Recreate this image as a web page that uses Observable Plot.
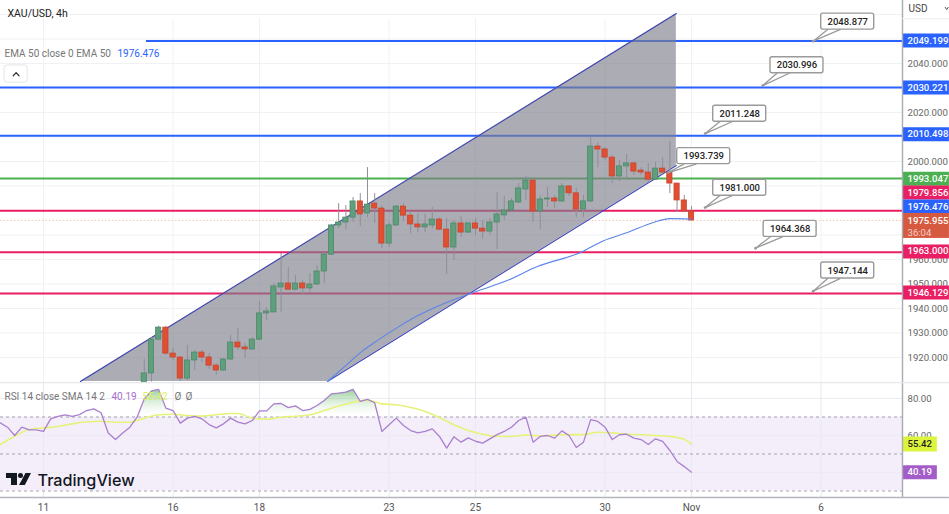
<!DOCTYPE html>
<html>
<head>
<meta charset="utf-8">
<script src="https://cdn.jsdelivr.net/npm/d3@7"></script>
<script src="https://cdn.jsdelivr.net/npm/@observablehq/plot@0.6"></script>
<style>
html,body{margin:0;padding:0;background:#fff;overflow:hidden}
#chart{width:949px;height:514px}
svg{display:block}
</style>
</head>
<body>
<div id="chart"></div>
<script>
// ---------- candle data (4h bars, first bar is index 14 counted from the "11" tick) ----------
const candleStart = 14;
const opens = [1907.3,1913.5,1927.3,1932.2,1921.6,1920,1911.4,1918.8,1922,1920,1916.7,1914.7,1919.2,1926.1,1924.1,1923.3,1927.3,1938,1938.4,1948.6,1950.2,1947.7,1950.2,1948.2,1949.8,1955.1,1962,1973.9,1975.1,1977.1,1983.7,1978.8,1982.8,1980.8,1966.5,1973.9,1981.6,1977.9,1974.3,1973.1,1973.9,1976.3,1972.2,1964.9,1974.7,1971,1974.7,1972.6,1971.4,1975.1,1978,1980,1983.3,1988.6,1992.2,1979.6,1984.5,1984.9,1983.7,1989.8,1987,1980.4,1983.7,2006.1,2004.9,2001.6,1993.9,1998,1999.2,1996.3,1995.5,1992.6,1997.1,1995.5,1991,1984.1,1979.6];
const highs = [1919.2,1928.1,1932.8,1932.6,1923.7,1920.3,1924.9,1922.9,1922.9,1921.6,1917.5,1919.6,1929,1931.8,1925.7,1928.1,1942.9,1940.4,1950.2,1962.4,1956.7,1953.5,1951.4,1954.3,1957.5,1962.9,1974.3,1982.8,1982,1985.3,1986.9,1997.5,1986.9,1982,1975.1,1982,1982.8,1979.2,1978.8,1978.4,1981.2,1977.1,1976.7,1975.9,1977.5,1975.1,1976.7,1975.9,1976.7,1987.3,1985.7,1984.9,1991,1993.9,1992.2,1986.1,1989.4,1986.1,1991,1990.2,1989,1986.1,2009.8,2007.7,2005.7,2002.4,2000.4,2002.9,1999.6,1997.5,1999.2,1999.6,2001.6,2008.2,1991,1986.1,1981.6];
const lows = [1905,1910,1926.9,1921,1918.8,1910.2,1910.6,1914.7,1918,1915.1,1912.7,1914.3,1918.8,1922.9,1919.6,1922.9,1926.9,1935.1,1938.4,1938.4,1947.3,1947.3,1945.7,1946.1,1949.4,1950.2,1961.6,1972.6,1972.2,1975.1,1973.5,1977.1,1974.7,1964.5,1964.9,1973.5,1975.5,1970.6,1971,1971,1972.6,1971.8,1953.9,1959.6,1969,1970.6,1969.8,1968.2,1969.8,1964.1,1975.9,1979.6,1982.8,1984.1,1975.1,1972.2,1981.2,1980.8,1983.3,1985.7,1977.1,1977.1,1983.3,1997.5,2000.4,1991,1991.8,1992.6,1994.3,1994.3,1991,1992.2,1994.3,1986.9,1979.2,1979.2,1975.9];
const closes = [1913.5,1927.3,1932.2,1921.6,1920,1911.4,1918.8,1922,1920,1916.7,1914.7,1919.2,1926.1,1924.1,1923.3,1927.3,1938,1938.8,1949,1950.2,1947.7,1950.2,1948.2,1949.8,1955.1,1962,1973.9,1975.1,1977.1,1983.7,1978.4,1982.4,1980.8,1966.5,1973.9,1981.6,1977.9,1974.3,1973.1,1974.3,1976.3,1972.2,1964.9,1974.7,1971,1974.7,1972.6,1971.4,1975.1,1978.4,1980,1983.7,1989,1992.2,1979.6,1984.5,1984.9,1983.7,1989.8,1987,1980.4,1983.7,2006.1,2004.9,2001.6,1993.9,1998,1999.2,1995.9,1995.5,1992.6,1997.1,1995.5,1991,1984.1,1979.6,1975.9];

// ---------- EMA 50 ----------
const emaIndex = [39.44,41.67,44.4,46.4,49.2,52,53.75,59.3,64.4,68.6,74.6,77.8,81.1,84.7,87,89.9];
const emaValue = [1910.2,1915.9,1922.9,1927,1932.3,1937.1,1939.6,1946.1,1951.4,1957.1,1962.9,1967.7,1971,1975.1,1976.7,1976.5];

// ---------- rising channel ----------
const channelIndex = [5.14,39.44,87.9];
const channelLow = [1910.2,1910.2,1998.4];
const channelHigh = [1910.2,1972.4,2060.4];

// ---------- horizontal levels ----------
const levelValue = [2049.199,2030.221,2010.498,1993.047,1979.856,1963,1946.129];
const levelColor = ["#2962ff","#2962ff","#2962ff","#4caf50","#e91e63","#e91e63","#e91e63"];
const levelStart = [14.3,-6,-6,-6,-6,-6,-6];
const lastPrice = 1975.955;

// ---------- callouts ----------
const calloutText = ["2048.877","2030.996","2011.248","1993.739","1981.000","1964.368","1947.144"];
const calloutBoxX = [111.7,104.65,96.7,91.7,96.7,103.7,111.7];
const calloutBoxY = [2057.1,2039.3,2019.5,2002.2,1989.3,1972.5,1955.5];
const calloutTipX = [106.9,99.9,91.9,86.8,91.9,98.9,106.9];
const calloutTipY = [2049.1,2031,2011.4,1995.5,1981.2,1964.6,1947.05];

// ---------- price scale ----------
const priceTicks = [2040,2020,2000,1960,1950,1940,1930,1920];
const priceGrid = [2060,2050,2040,2030,2020,2010,2000,1990,1980,1970,1960,1950,1940,1930,1920];
const tagText = ["2049.199","2030.221","2010.498","1993.047","1979.856","1976.476","1963.000","1946.129"];
const tagAt = [2049.4,2030.2,2011.1,1993.0,1987.3,1981.6,1963.3,1946.5];
const tagColor = ["#2962ff","#2962ff","#2962ff","#4caf50","#e91e63","#2962ff","#e91e63","#e91e63"];

// ---------- time scale ----------
const dayIndex = [0,18,30,48,60,78,90,108];
const dayLabel = ["11","16","18","23","25","30","Nov","6"];

// ---------- RSI (first value is index -6) ----------
const rsiStart = -6;
const rsi = [66.8,64.5,60,64.5,63.1,63.1,62.2,69,70.4,71.2,70.4,71.3,73.5,74.4,72.3,61.4,57.8,61.4,64.5,69.9,79.8,84,84.9,74.8,73.5,66.7,69.4,70.3,69,65.9,64.1,66.3,69.4,67.2,66.3,68.1,73.3,73.3,77.1,77.3,75.1,76,73.5,74.1,76.2,78.9,82.5,82.9,83.4,84.9,78.4,79.5,77.7,62.2,65.8,69.4,65.4,62.7,61.4,62.2,63.6,59.5,53.2,59.3,56.4,58.7,56.9,55.9,58.2,60.5,62.2,64.5,68.1,69.9,56.4,59.5,60,58.6,62.5,60,53.5,56.4,68.6,67.6,64.5,57.8,60.4,60.7,58.6,57.8,55.1,58.2,56.8,51.9,46,43.2,40.19];
const smaIndex = [-6,-4,-2,0,2,4,6,8,10,12,14,16,18,20,22,24,26,27,29,31,33,35,37,39,41,43,45,47,49,51,53,55,57,59,61,63,65,67,69,71,73,75,77,79,81,83,85,87,89,90];
const smaValue = [55.1,59.6,63.2,64.1,64.9,66.3,67.4,67.7,67.2,67.2,69.4,71.2,71.5,70.8,70.5,71.2,71.9,71.9,69.4,68.8,69.9,70.4,71.2,73.5,75.9,78,79.1,77.1,76.6,75.1,73,69.7,65.8,62.7,60.7,59.6,59.5,60.2,59.8,60.2,60.5,60.5,61.8,61.4,60.7,60.4,60,59.5,57.8,55.42];
const rsiTicks = [80,60];
const rsiGrid = [80,60,40];
const rsiBands = [70,50,30];

// ---------- tables ----------
const candles = opens.map((o,k)=>({i:candleStart+k,o,h:highs[k],l:lows[k],c:closes[k],up:closes[k]>=o}));
const ema = emaIndex.map((i,k)=>({i,v:emaValue[k]}));
const channel = channelIndex.map((i,k)=>({i,lo:channelLow[k],hi:channelHigh[k]}));
const levels = levelValue.map((v,k)=>({v,color:levelColor[k],start:levelStart[k]}));
const tags = tagText.map((t,k)=>({t,at:tagAt[k],color:tagColor[k]}));
const rsiRows = rsi.map((v,k)=>({i:rsiStart+k,v}));
const smaRows = smaIndex.map((i,k)=>({i,v:smaValue[k]}));
const boxW = 3.68, boxH = 3.27;
const callouts = calloutText.map((t,k)=>({t,x:calloutBoxX[k],y:calloutBoxY[k],tx:calloutTipX[k],ty:calloutTipY[k]}));
const pointers = callouts.flatMap((c,k)=>[
  {k,x:c.x-boxW+0.9,y:c.y-boxH},{k,x:c.tx,y:c.ty},{k,x:c.x-boxW+2.6,y:c.y-boxH}
]);

// ---------- shared scale ----------
const xDomain = [-5.97,119.31];
const axisEdge = 119.31, rightEnd = 125.83, leftEnd = -5.97;
const font = "Roboto, 'Liberation Sans', sans-serif";
const grid = "#f0f1f5";
const axisSize = 9.6;

function note(text, x, y, o={}) {
  return Plot.text([text], {text:d=>d, frameAnchor:"top-left", dx:x, dy:y, textAnchor:"start", lineAnchor:"middle", fontSize:10, ...o});
}

const main = Plot.plot({
  width:949, height:382, marginTop:0, marginBottom:0, marginLeft:0, marginRight:47,
  style:{fontFamily:font, background:"#fff", color:"#666"},
  x:{domain:xDomain, axis:null},
  y:{domain:[1909.8,2065.71], axis:null},
  marks:[
    Plot.ruleY(priceGrid,{x1:leftEnd,x2:axisEdge,stroke:grid,strokeWidth:1}),
    Plot.ruleX(dayIndex,{y1:1909.8,y2:2058.3,stroke:grid,strokeWidth:1}),
    Plot.ruleY([lastPrice],{x1:leftEnd,x2:axisEdge,stroke:"#f3a9a0",strokeWidth:1,strokeDasharray:"1.5 2",strokeOpacity:0.7}),
    Plot.ruleY(levels,{y:"v",x1:"start",x2:axisEdge,stroke:"color",strokeWidth:2}),
    Plot.areaY(channel,{x:"i",y1:"lo",y2:"hi",fill:"#80808c",fillOpacity:0.65,curve:"linear"}),
    Plot.line(channel.slice(1),{x:"i",y:"lo",stroke:"#3f45b8",strokeWidth:1.1}),
    Plot.line(channel,{x:"i",y:"hi",stroke:"#3f45b8",strokeWidth:1.1}),
    Plot.ruleX(candles,{x:"i",y1:"l",y2:"h",stroke:"#8c8f96",strokeWidth:1}),
    Plot.rect(candles,{x1:d=>d.i-0.36,x2:d=>d.i+0.36,y1:"o",y2:"c",
      fill:d=>d.up?"#5f9f7e":"#e14f33",stroke:d=>d.up?"#4b8a69":"#c8452d",strokeWidth:0.8}),
    Plot.line(ema,{x:"i",y:"v",stroke:"#5b85ea",strokeWidth:1.1,curve:"monotone-x"}),
    Plot.line(pointers,{x:"x",y:"y",z:"k",fill:"#fff",stroke:"#9a9a9a",strokeWidth:1.3}),
    Plot.rect(callouts,{x1:d=>d.x-boxW,x2:d=>d.x+boxW,y1:d=>d.y-boxH,y2:d=>d.y+boxH,fill:"#fff",stroke:"#9a9a9a",strokeWidth:1.4,rx:2}),
    Plot.dot(callouts,{x:"tx",y:"ty",r:1.4,fill:"#999"}),
    Plot.text(callouts,{x:"x",y:"y",text:"t",fontSize:9.5,fontWeight:500,fill:"#222",letterSpacing:"0.2px"}),
    // right price scale
    Plot.axisY({anchor:"right",ticks:priceTicks,tickFormat:d3.format(".3f"),tickSize:0,tickPadding:5,fontSize:axisSize,label:null,color:"#666"}),
    Plot.ruleY(tags,{y:"at",x1:axisEdge,x2:rightEnd,stroke:"color",strokeWidth:14}),
    Plot.rect([{y1:1968.6,y2:1978.8}],{x1:axisEdge,x2:rightEnd,y1:"y1",y2:"y2",fill:"#d65a40"}),
    Plot.text(tags,{x:axisEdge,y:"at",text:"t",dx:5,textAnchor:"start",fill:"#fff",fontSize:axisSize,fontWeight:500}),
    Plot.text(["1975.955"],{x:axisEdge,y:1975.6,text:d=>d,dx:5,textAnchor:"start",fill:"#fff",fontSize:axisSize,fontWeight:500}),
    Plot.text(["36:04"],{x:axisEdge,y:1971,text:d=>d,dx:5,textAnchor:"start",fill:"#f7cfc6",fontSize:axisSize}),
    Plot.ruleX([axisEdge],{stroke:"#a9abb2",strokeWidth:1.4}),
    Plot.ruleY([2058.3],{x1:axisEdge,x2:rightEnd,stroke:"#eceef2"}),
    // header texts
    note("XAU/USD, 4h",7,13,{fontSize:10.5,fill:"#222"}),
    note("EMA 50 close 0 EMA 50",4,53,{fill:"#777"}),
    note("1976.476",117,53,{fill:"#2962ff"}),
    note("USD",908,8,{fill:"#444"}),
    Plot.line([{i:125.25,p:2062.9},{i:125.45,p:2062},{i:125.65,p:2062.9}],{x:"i",y:"p",stroke:"#555",strokeWidth:1}),
    Plot.rect([{a:-5.4,b:-2.2,c:2032.2,d:2039.2}],{x1:"a",x2:"b",y1:"c",y2:"d",fill:"#fff",stroke:"#e4e5ea",rx:3}),
    Plot.line([{i:-4.2,p:2035},{i:-3.8,p:2036.3},{i:-3.4,p:2035}],{x:"i",y:"p",stroke:"#333",strokeWidth:1.2})
  ]
});

const gradient = () => {
  const svgNS = "http://www.w3.org/2000/svg";
  const defs = document.createElementNS(svgNS,"defs");
  const g = document.createElementNS(svgNS,"linearGradient");
  g.setAttribute("id","obFill"); g.setAttribute("x1","0"); g.setAttribute("y1","0"); g.setAttribute("x2","0"); g.setAttribute("y2","1");
  [["0%","#4caf50","0.6"],["100%","#ffffff","0.1"]].forEach(([o,c,a])=>{
    const s=document.createElementNS(svgNS,"stop");
    s.setAttribute("offset",o); s.setAttribute("stop-color",c); s.setAttribute("stop-opacity",a); g.appendChild(s);
  });
  defs.appendChild(g); return defs;
};
const logo = () => {
  const svgNS = "http://www.w3.org/2000/svg";
  const p = document.createElementNS(svgNS,"path");
  p.setAttribute("d","M6 91H17V103H11V96H6Z M18 93.5a2.5 2.5 0 1 0 5 0a2.5 2.5 0 1 0 -5 0Z M25.5 91H31L24.8 103H19Z");
  p.setAttribute("fill","#131722");
  return p;
};

const rsiPlot = Plot.plot({
  width:949, height:132, marginTop:0, marginBottom:17, marginLeft:0, marginRight:47,
  style:{fontFamily:font, background:"#fff", color:"#666"},
  x:{domain:xDomain, axis:null},
  y:{domain:[26.5,88.65], axis:null},
  marks:[
    gradient,
    Plot.rect([{a:30,b:70}],{x1:leftEnd,x2:axisEdge,y1:"a",y2:"b",fill:"#f3eef9"}),
    Plot.ruleY(rsiGrid,{x1:leftEnd,x2:axisEdge,stroke:"#ecebf1"}),
    Plot.ruleX(dayIndex,{y1:26.5,y2:88.65,stroke:"#e9e9ef"}),
    Plot.ruleY(rsiBands,{x1:leftEnd,x2:axisEdge,stroke:"#9a9aa2",strokeWidth:0.9,strokeDasharray:"3 3"}),
    Plot.areaY(rsiRows,{x:"i",y1:()=>70,y2:d=>Math.max(d.v,70),fill:"url(#obFill)"}),
    Plot.line(smaRows,{x:"i",y:"v",stroke:"#e6f27a",strokeWidth:1.6,curve:"monotone-x"}),
    Plot.line(rsiRows,{x:"i",y:"v",stroke:"#ab7fd0",strokeWidth:1.3}),
    Plot.axisY({anchor:"right",ticks:rsiTicks,tickFormat:d3.format(".2f"),tickSize:0,tickPadding:5,fontSize:axisSize,label:null,color:"#666"}),
    Plot.axisX({anchor:"bottom",ticks:dayIndex,tickFormat:d=>dayLabel[dayIndex.indexOf(d)],tickSize:0,tickPadding:6,fontSize:10,label:null,color:"#555"}),
    Plot.ruleY([55.42],{x1:axisEdge,x2:124.15,stroke:"#dcf53c",strokeWidth:15}),
    Plot.ruleY([40.1],{x1:axisEdge,x2:124.15,stroke:"#a35cc8",strokeWidth:14}),
    Plot.text(["55.42"],{x:axisEdge,y:55.42,text:d=>d,dx:5,textAnchor:"start",fill:"#222",fontSize:axisSize,fontWeight:500}),
    Plot.text(["40.19"],{x:axisEdge,y:40.1,text:d=>d,dx:5,textAnchor:"start",fill:"#fff",fontSize:axisSize,fontWeight:500}),
    Plot.ruleX([axisEdge],{y1:26.5,y2:88.65,stroke:"#a9abb2",strokeWidth:1.4}),
    Plot.ruleY([26.5],{x1:leftEnd,x2:rightEnd,stroke:"#b4b6bc",strokeWidth:1.4}),
    Plot.ruleY([88.65],{x1:leftEnd,x2:rightEnd,stroke:"#e6e7ea",strokeWidth:1.4}),
    note("RSI 14 close SMA 14 2",4,14,{fill:"#777"}),
    note("40.19",111,14,{fill:"#a66fd0"}),
    note("55.42",142,14,{fill:"#e2ee5c"}),
    note("Ø",174,14,{fill:"#777"}),
    note("Ø",185,14,{fill:"#777"}),
    logo,
    note("TradingView",37,98,{fontFamily:"Inter, Roboto, sans-serif",fontSize:16.2,fontWeight:500,fill:"#131722"})
  ]
});

const host = document.getElementById("chart");
host.appendChild(main);
host.appendChild(rsiPlot);
</script>
</body>
</html>
